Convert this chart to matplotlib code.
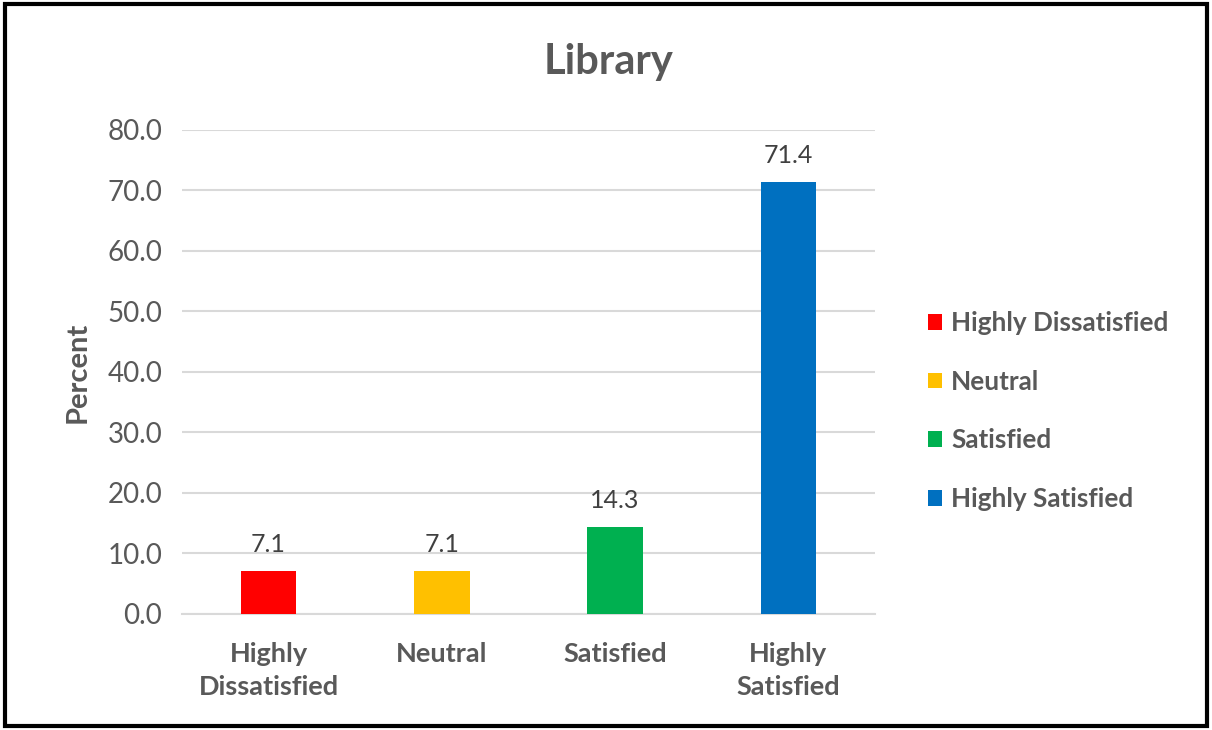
import matplotlib
matplotlib.use("Agg")
import matplotlib.pyplot as plt
from matplotlib.patches import Rectangle, Patch

categories = ["Highly\nDissatisfied", "Neutral", "Satisfied", "Highly\nSatisfied"]
legend_labels = ["Highly Dissatisfied", "Neutral", "Satisfied", "Highly Satisfied"]
percent = [7.1, 7.1, 14.3, 71.4]
colors = ["#FF0000", "#FFC000", "#00B050", "#0070C0"]
yticks = [0, 10, 20, 30, 40, 50, 60, 70, 80]

plt.rcParams['font.family'] = ['Lato', 'DejaVu Sans']
text_gray = "#595959"

fig = plt.figure(figsize=(12.12, 7.30), dpi=100)
ax = fig.add_axes([0.150, 0.159, 0.572, 0.663])

x = range(len(categories))
bars = ax.bar(x, percent, width=0.32, color=colors, zorder=3)

for b, v in zip(bars, percent):
    ax.annotate(f"{v:.1f}", (b.get_x() + b.get_width() / 2, v),
                xytext=(0, 11), textcoords="offset points",
                ha="center", va="bottom", fontsize=18, color="#404040")

ax.set_xlim(-0.5, len(categories) - 0.5)
ax.set_ylim(0, 80)
ax.set_yticks(yticks)
ax.set_yticklabels([f"{t:.1f}" for t in yticks], fontsize=20, color=text_gray)
ax.set_xticks(list(x))
ax.set_xticklabels(categories, fontsize=19.5, fontweight="bold", color=text_gray,
                   linespacing=1.45)
ax.tick_params(axis="both", length=0)
ax.tick_params(axis="y", pad=14)
ax.tick_params(axis="x", pad=20)
ax.grid(axis="y", color="#D9D9D9", linewidth=1.5, zorder=0)
for s in ["top", "right", "left"]:
    ax.spines[s].set_visible(False)
ax.spines["bottom"].set_color("#D9D9D9")
ax.spines["bottom"].set_linewidth(1.5)

ax.set_ylabel("Percent", fontsize=21, fontweight="bold", color=text_gray, labelpad=12)
fig.text(0.502, 0.915, "Library", ha="center", va="center",
         fontsize=30, fontweight="bold", color=text_gray)

handles = [Patch(facecolor=c, label=l) for c, l in zip(colors, legend_labels)]
leg = fig.legend(handles=handles, loc="center left", bbox_to_anchor=(0.746, 0.437),
                 frameon=False, handlelength=0.55, handleheight=0.55,
                 handletextpad=0.35, labelspacing=1.33,
                 prop={"size": 18.8, "weight": "bold"})
for t in leg.get_texts():
    t.set_color(text_gray)

fig.add_artist(Rectangle((0.0045, 0.006), 0.9915, 0.988, transform=fig.transFigure,
                         fill=False, edgecolor="black", linewidth=3))

fig.savefig("out.png", dpi=100)
